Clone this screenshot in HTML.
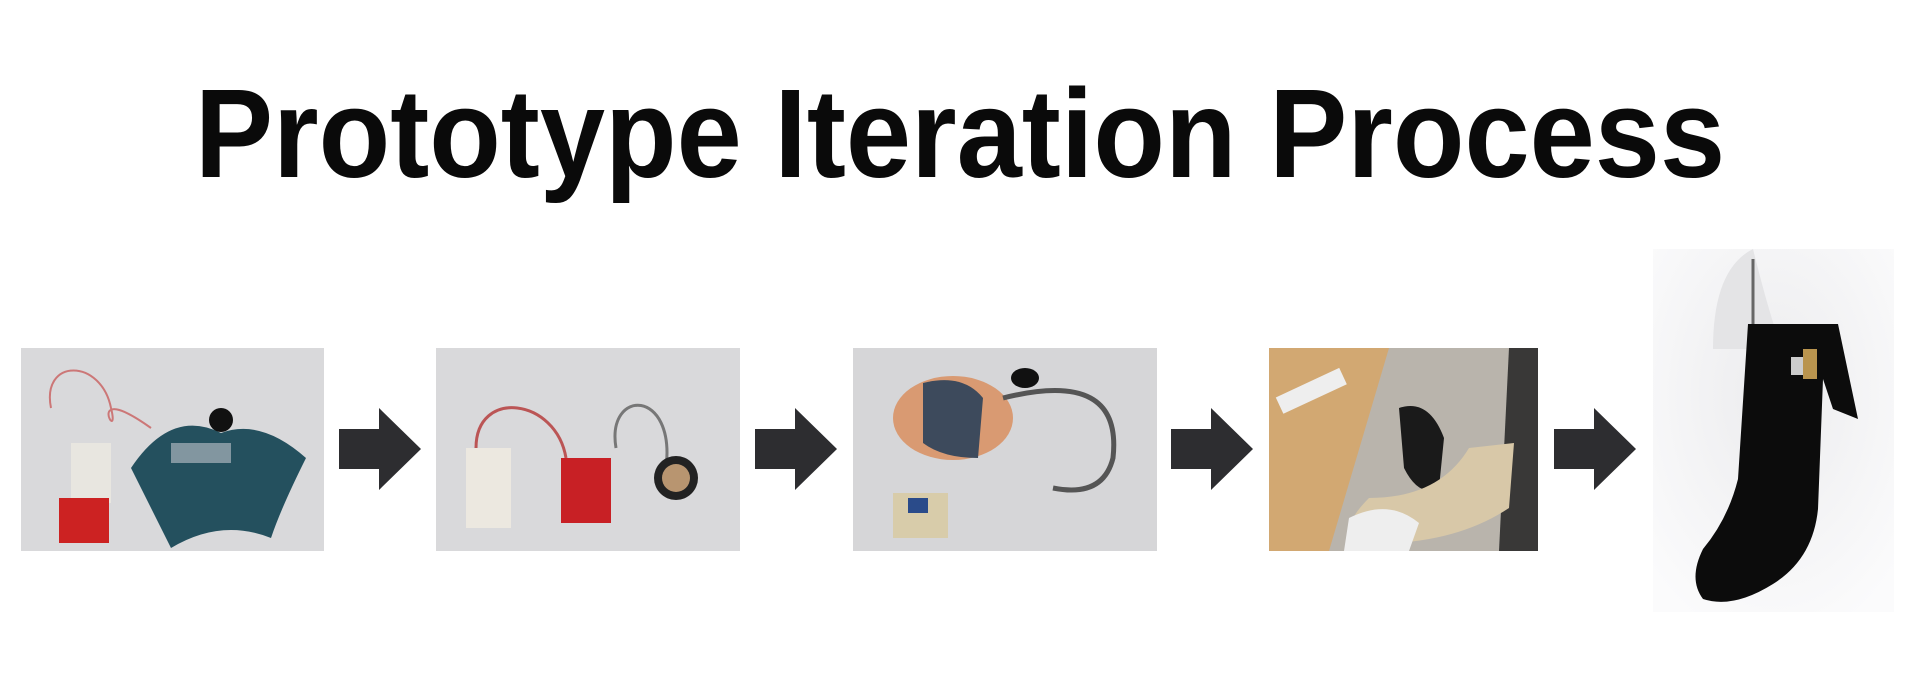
<!DOCTYPE html>
<html><head><meta charset="utf-8"><style>
html,body{margin:0;padding:0;background:#fff;width:1920px;height:697px;overflow:hidden;position:relative;font-family:"Liberation Sans",sans-serif}
h1{position:absolute;left:0;width:1920px;top:64px;margin:0;text-align:center;font-size:126px;font-weight:bold;color:#0a0a0a;line-height:140px;transform:scaleX(0.93);transform-origin:960px 0}
.ph{position:absolute;top:348px;height:203px}
.ar{position:absolute;top:408px;width:82px;height:82px}
</style></head><body>
<h1>Prototype Iteration Process</h1>

<svg class="ph" style="left:21px;width:303px" viewBox="0 0 303 203">
<rect width="303" height="203" fill="#d9d9db"/>
<path d="M30 60 C20 10 80 10 90 60 C100 100 60 30 130 80" stroke="#c77" fill="none" stroke-width="2"/>
<rect x="50" y="95" width="40" height="60" fill="#e8e6e0"/>
<rect x="38" y="150" width="50" height="45" fill="#c22"/>
<path d="M110 120 Q150 60 200 85 Q240 70 285 110 Q260 160 250 190 Q200 170 150 200 Q130 160 110 120Z" fill="#24505e"/>
<rect x="150" y="95" width="60" height="20" fill="#9aa8b0" opacity=".8"/>
<circle cx="200" cy="72" r="12" fill="#111"/>
</svg>
<svg class="ar" style="left:339px" viewBox="0 0 82 82"><path d="M0 21H40V0L82 41L40 82V61H0Z" fill="#2d2d30"/></svg>

<svg class="ph" style="left:436px;width:304px" viewBox="0 0 304 203">
<rect width="304" height="203" fill="#d9d9db"/>
<rect x="30" y="100" width="45" height="80" fill="#ece8e0"/>
<path d="M40 100 C40 40 120 50 130 110" stroke="#b55" fill="none" stroke-width="3"/>
<rect x="125" y="110" width="50" height="65" fill="#c82025"/>
<path d="M180 100 C170 40 240 40 230 120" stroke="#777" fill="none" stroke-width="3"/>
<circle cx="240" cy="130" r="22" fill="#222"/><circle cx="240" cy="130" r="14" fill="#b89570"/>
</svg>
<svg class="ar" style="left:755px" viewBox="0 0 82 82"><path d="M0 21H40V0L82 41L40 82V61H0Z" fill="#2d2d30"/></svg>

<svg class="ph" style="left:853px;width:304px" viewBox="0 0 304 203">
<rect width="304" height="203" fill="#d6d6d8"/>
<ellipse cx="100" cy="70" rx="60" ry="42" fill="#d99a72"/>
<path d="M70 35 Q110 25 130 50 L125 110 Q90 110 70 95Z" fill="#3d4a5c"/>
<path d="M150 50 Q270 20 260 110 Q250 150 200 140" stroke="#555" fill="none" stroke-width="5"/>
<ellipse cx="172" cy="30" rx="14" ry="10" fill="#111"/>
<rect x="40" y="145" width="55" height="45" fill="#d8ccaa"/>
<rect x="55" y="150" width="20" height="15" fill="#2a4b8a"/>
</svg>
<svg class="ar" style="left:1171px" viewBox="0 0 82 82"><path d="M0 21H40V0L82 41L40 82V61H0Z" fill="#2d2d30"/></svg>

<svg class="ph" style="left:1269px;width:269px" viewBox="0 0 269 203">
<rect width="269" height="203" fill="#b9b4ac"/>
<path d="M0 0H70L120 0L60 203H0Z" fill="#d2a872"/>
<rect x="8" y="35" width="70" height="18" fill="#eee" transform="rotate(-25 40 45)"/>
<path d="M130 60 Q160 50 175 90 L170 140 Q150 150 135 120Z" fill="#1a1a1a"/>
<path d="M240 0H269V203H230Z" fill="#222" opacity=".85"/>
<path d="M200 100 L245 95 L240 160 Q180 200 85 195 Q70 180 100 150 Q170 150 200 100Z" fill="#d8c8a8"/>
<path d="M80 170 Q120 150 150 175 L140 203 H75Z" fill="#eee"/>
</svg>
<svg class="ar" style="left:1554px" viewBox="0 0 82 82"><path d="M0 21H40V0L82 41L40 82V61H0Z" fill="#2d2d30"/></svg>

<svg style="position:absolute;left:1653px;top:249px;width:241px;height:363px" viewBox="0 0 241 363">
<defs><radialGradient id="g" cx="0.5" cy="0.4" r="0.7"><stop offset="0" stop-color="#ececee"/><stop offset="1" stop-color="#fbfbfc"/></radialGradient></defs>
<rect width="241" height="363" fill="url(#g)"/>
<path d="M100 0 Q120 80 130 100 H60 Q60 20 100 0Z" fill="#e4e4e6"/>
<path d="M100 10 L100 75" stroke="#666" stroke-width="3"/>
<path d="M95 75 H185 L205 170 L180 160 L170 130 L165 260 Q160 310 120 335 Q80 360 50 350 Q35 330 50 300 Q75 270 85 230 L95 75Z" fill="#0c0c0c"/>
<rect x="150" y="100" width="14" height="30" fill="#b9944e"/>
<rect x="138" y="108" width="12" height="18" fill="#ccc"/>
</svg>
</body></html>
